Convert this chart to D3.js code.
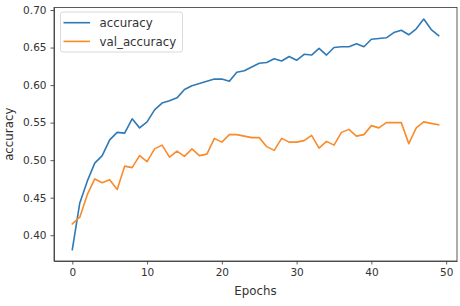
<!DOCTYPE html>
<html>
<head>
<meta charset="utf-8">
<title>accuracy</title>
<script src="https://cdn.jsdelivr.net/npm/d3@7"></script>
<style>
body { margin: 0; background: #fff; }
svg { display: block; }
.axis text { font-family: "DejaVu Sans", sans-serif; font-size: 10.5px; fill: #333; }
.axis path, .axis line { stroke: #333; stroke-width: 0.8; }
.lbl { font-family: "DejaVu Sans", sans-serif; font-size: 11.8px; fill: #333; }
</style>
</head>
<body>
<script>
// values
var epochs = d3.range(0, 50);
var accuracy = [0.381, 0.443, 0.472, 0.496, 0.506, 0.527, 0.537, 0.536, 0.555, 0.543,
                0.551, 0.567, 0.576, 0.579, 0.583, 0.594, 0.599, 0.602, 0.605, 0.608,
                0.608, 0.605, 0.617, 0.619, 0.624, 0.629, 0.630, 0.635, 0.632, 0.638,
                0.633, 0.641, 0.640, 0.649, 0.640, 0.650, 0.651, 0.651, 0.655, 0.651,
                0.661, 0.662, 0.663, 0.670, 0.673, 0.667, 0.675, 0.688, 0.674, 0.666];
var valAccuracy = [0.415, 0.424, 0.454, 0.475, 0.470, 0.474, 0.461, 0.492, 0.490, 0.506,
                   0.498, 0.515, 0.520, 0.504, 0.512, 0.505, 0.515, 0.506, 0.508, 0.529,
                   0.524, 0.534, 0.534, 0.532, 0.530, 0.530, 0.518, 0.513, 0.529, 0.524,
                   0.524, 0.526, 0.533, 0.516, 0.525, 0.520, 0.537, 0.541, 0.532, 0.534,
                   0.546, 0.543, 0.550, 0.550, 0.550, 0.522, 0.543, 0.551, 0.549, 0.547];
var seriesNames = ["accuracy", "val_accuracy"];
var seriesColors = ["#2f7ab6", "#fa8a2a"];
var xTicks = [0, 10, 20, 30, 40, 50];
var yTicks = [0.40, 0.45, 0.50, 0.55, 0.60, 0.65, 0.70];

var width = 460, height = 306;
var pL = 54, pR = 457, pT = 7.5, pB = 261;

var svg = d3.select("body").append("svg")
    .attr("width", width)
    .attr("height", height);

// matplotlib style 5% margins
var xPad = (d3.max(epochs) - d3.min(epochs)) * 0.05;
var all = accuracy.concat(valAccuracy);
var yPad = (d3.max(all) - d3.min(all)) * 0.05;

var x = d3.scaleLinear()
    .domain([d3.min(epochs) - xPad, d3.max(epochs) + xPad])
    .range([pL, pR]);
var y = d3.scaleLinear()
    .domain([d3.min(all) - yPad, d3.max(all) + yPad])
    .range([pB, pT]);

svg.append("g")
    .attr("class", "axis")
    .attr("transform", "translate(0," + pB + ")")
    .call(d3.axisBottom(x).tickValues(xTicks).tickSize(3.5).tickPadding(4).tickSizeOuter(0));
svg.append("g")
    .attr("class", "axis")
    .attr("transform", "translate(" + pL + ",0)")
    .call(d3.axisLeft(y).tickValues(yTicks).tickFormat(d3.format(".2f")).tickSize(3.5).tickPadding(4).tickSizeOuter(0));

// top and right spines
svg.append("rect")
    .attr("x", pL)
    .attr("y", pT)
    .attr("width", pR - pL)
    .attr("height", pB - pT)
    .attr("fill", "none")
    .attr("stroke", "#333")
    .attr("stroke-width", 0.8);

var line = d3.line()
    .x(function(d, i){ return x(epochs[i]); })
    .y(function(d){ return y(d); });

[accuracy, valAccuracy].forEach(function(s, k){
    svg.append("path")
        .datum(s)
        .attr("d", line)
        .attr("fill", "none")
        .attr("stroke", seriesColors[k])
        .attr("stroke-width", 1.6)
        .attr("stroke-linejoin", "round")
        .attr("stroke-linecap", "square");
});

// legend
var lg = svg.append("g");
lg.append("rect")
    .attr("x", 60.5)
    .attr("y", 12)
    .attr("width", 122)
    .attr("height", 40)
    .attr("rx", 2.5)
    .attr("fill", "#fff")
    .attr("fill-opacity", 0.8)
    .attr("stroke", "#d0d0d0")
    .attr("stroke-width", 0.8);
seriesNames.forEach(function(n, k){
    var yy = 22.7 + k * 18.7;
    lg.append("line")
        .attr("x1", 63.5)
        .attr("x2", 90)
        .attr("y1", yy)
        .attr("y2", yy)
        .attr("stroke", seriesColors[k])
        .attr("stroke-width", 1.6);
    lg.append("text")
        .attr("class", "lbl")
        .attr("x", 99.5)
        .attr("y", yy + 4.2)
        .text(n);
});

svg.append("text")
    .attr("class", "lbl")
    .attr("x", (pL + pR) / 2)
    .attr("y", 295.3)
    .attr("text-anchor", "middle")
    .text("Epochs");
svg.append("text")
    .attr("class", "lbl")
    .attr("transform", "translate(13," + ((pT + pB) / 2) + ") rotate(-90)")
    .attr("text-anchor", "middle")
    .text("accuracy");
</script>
</body>
</html>
